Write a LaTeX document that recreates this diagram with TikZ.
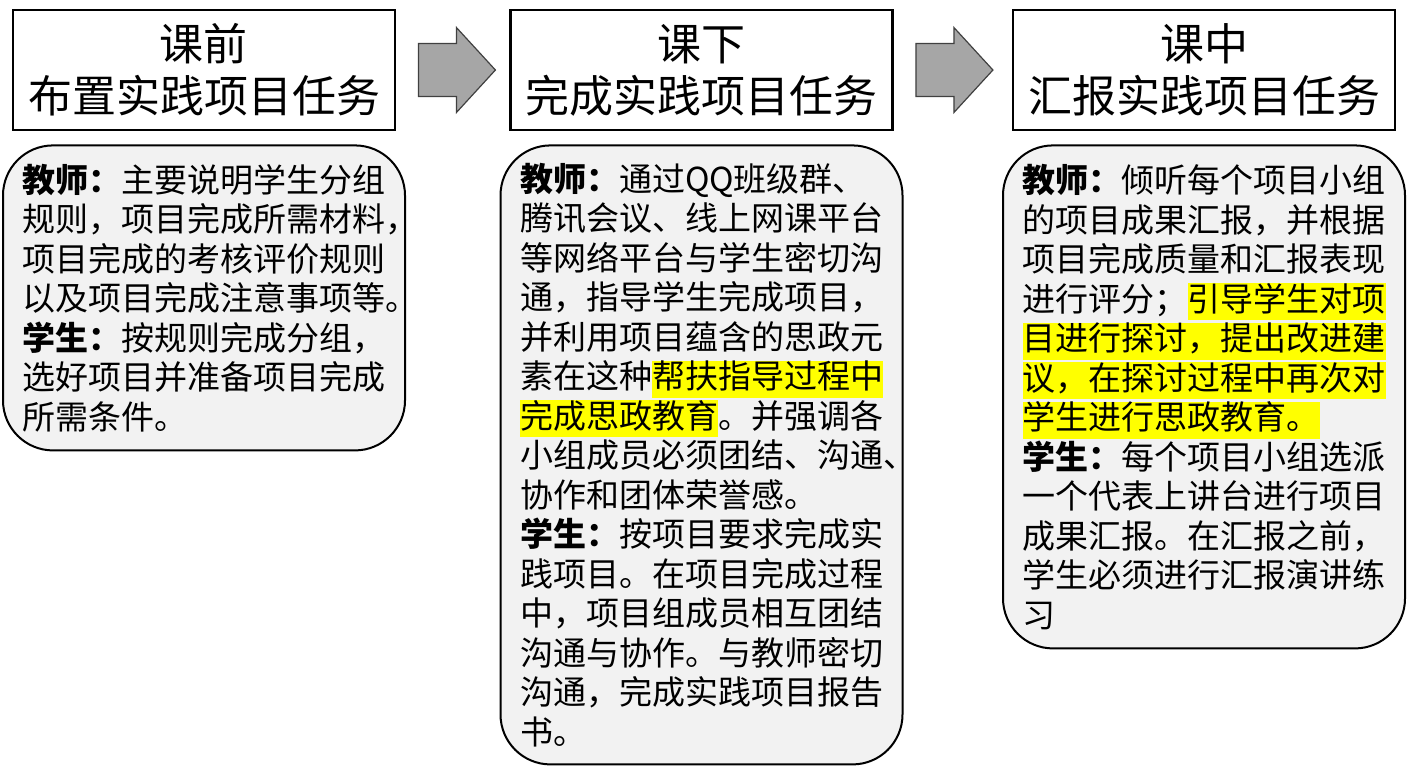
\documentclass[tikz,border=0pt]{standalone}
\usepackage{fontspec}
\setmainfont{Noto Sans CJK SC}
\usetikzlibrary{positioning,calc}
\definecolor{boxgray}{RGB}{242,242,242}
\definecolor{arrgray}{RGB}{166,166,166}
\definecolor{hlyellow}{RGB}{255,255,0}
\newcommand{\hlt}[1]{{\setlength{\fboxsep}{0pt}\colorbox{hlyellow}{\rule[-4.5pt]{0pt}{18.5pt}#1}}}
\newcommand{\role}[1]{\textbf{#1}}

\begin{document}
\begin{tikzpicture}[x=0.5pt,y=-0.5pt,
      titlebox/.style={draw=black, line width=1.4pt, fill=white,
        minimum width=191pt, minimum height=60pt, align=center,
        font=\fontsize{22pt}{26pt}\selectfont},
      bodybox/.style={draw=black, line width=1pt, fill=boxgray,
        rounded corners=25pt, text width=181.5pt, inner xsep=9.75pt,
        align=left, font=\fontsize{16.5pt}{19.75pt}\selectfont},
      blockarr/.style={draw=black!75, line width=0.6pt, fill=arrgray},
    ]
    \useasboundingbox (0,0) rectangle (1413,768);
    % Stage titles
    \node[titlebox] (pre) at (204,70) {课前\\布置实践项目任务};
    \node[titlebox] (mid) at (701.5,70) {课下\\完成实践项目任务};
    \node[titlebox] (post) at (1204,70) {课中\\汇报实践项目任务};

    % Stage details
    \node[bodybox, minimum height=152.5pt, below=6.5pt of pre] (prebody) {%
      \role{教师：}主要说明学生分组\\
      规则，项目完成所需材料，\\
      项目完成的考核评价规则\\
      以及项目完成注意事项等。\\
      \role{学生：}按规则完成分组，\\
      选好项目并准备项目完成\\
      所需条件。};
    \node[bodybox, minimum height=309.5pt, below=6.5pt of mid] (midbody) {%
      \role{教师：}通过QQ班级群、\\
      腾讯会议、线上网课平台\\
      等网络平台与学生密切沟\\
      通，指导学生完成项目，\\
      并利用项目蕴含的思政元\\
      素在这种\hlt{帮扶指导过程中}\\
      \hlt{完成思政教育}。并强调各\\
      小组成员必须团结、沟通、\\
      协作和团体荣誉感。\\
      \role{学生：}按项目要求完成实\\
      践项目。在项目完成过程\\
      中，项目组成员相互团结\\
      沟通与协作。与教师密切\\
      沟通，完成实践项目报告\\
      书。};
    \node[bodybox, minimum height=251.5pt, below=6.5pt of post] (postbody) {%
      \role{教师：}倾听每个项目小组\\
      的项目成果汇报，并根据\\
      项目完成质量和汇报表现\\
      进行评分；\hlt{引导学生对项}\\
      \hlt{目进行探讨，提出改进建}\\
      \hlt{议，在探讨过程中再次对}\\
      \hlt{学生进行思政教育。}\\
      \role{学生：}每个项目小组选派\\
      一个代表上讲台进行项目\\
      成果汇报。在汇报之前，\\
      学生必须进行汇报演讲练\\
      习};

    % Block arrows between stages
    \foreach \a in {pre,mid}
      \draw[blockarr] ($(\a.east)+(11pt,13.25pt)$) -- ++(19pt,0) -- ++(0,8pt)
        -- ++(19.5pt,-21.25pt) -- ++(-19.5pt,-21.25pt) -- ++(0,8pt)
        -- ++(-19pt,0) -- cycle;
  \end{tikzpicture}
\end{document}
